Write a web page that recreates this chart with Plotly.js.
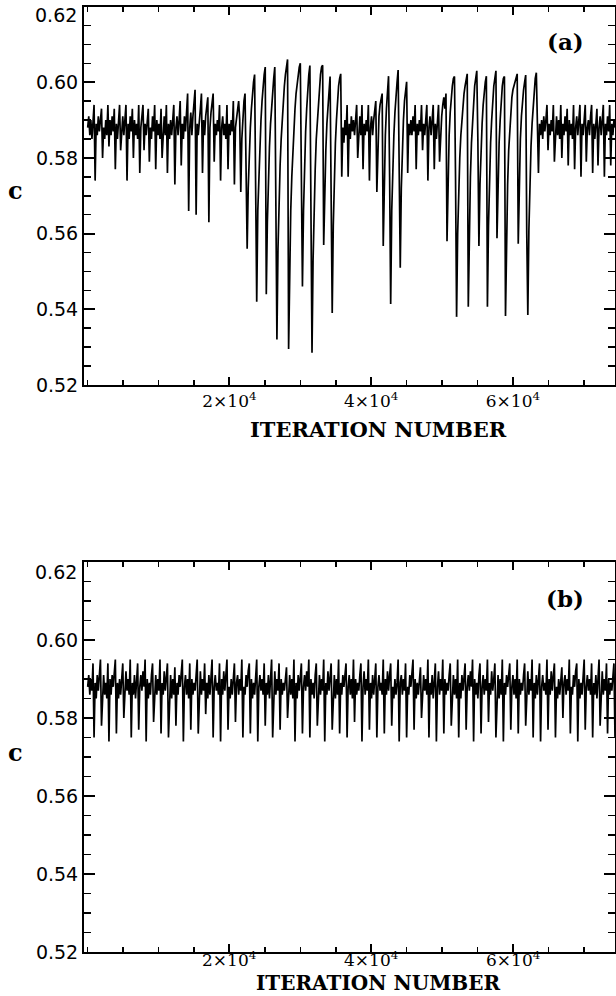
<!DOCTYPE html>
<html><head><meta charset="utf-8">
<script src="https://cdn.plot.ly/plotly-3.0.1.min.js"></script>
<style>html,body{margin:0;padding:0;background:#fff;}#chart{width:616px;height:996px;}</style>
</head><body><div id="chart"></div>
<script>
// iterations between successive samples of the series
const ITER_STEP = 150;

// Panel (a): c versus iteration number
const panelA_calm1 = [.588,.591,.586,.590,.585,.589,.594,.574,
 .589,.586,.591,.587,.590,.593,.580,
 .588,.585,.590,.586,.594,.583,
 .590,.586,.591,.587,.593,.577,
 .589,.585,.590,.594,.582,
 .588,.591,.586,.590,.594,.574,
 .589,.585,.591,.587,.593,.580,
 .590,.586,.589,.585,.594,.576,
 .588,.591,.594,.582,
 .589,.586,.590,.593,.579,
 .588,.585,.591,.587,.594,.577,
 .590,.586,.589,.585,.593,.580,
 .588,.591,.586,.594,.576,
 .589,.585,.590,.586,.591,.594,.573,
 .588,.591,.586,.590,.595];
const panelA_moderate = [.578,
 .589,.585,.591,.587,.592,.597,.566,
 .588,.592,.586,.591,.594,.598,.565,
 .589,.586,.591,.593,.597,.576,
 .590,.586,.591,.594,.596,.563,
 .588,.592,.594,.597,.579,
 .589,.586,.590,.587,.594,.574,
 .588,.591,.586,.589,.585,.594,.577,
 .589,.586,.590,.587,.595,.573,
 .588,.591,.593];
const panelA_burst1 = [.595,.590,.571,.585,.592,.595,.597,.580,.556,.572,
 .582,.588,.593,.597,.600,.602,.570,.542,.566,.576,
 .584,.590,.595,.599,.602,.604,.544,.563,.575,.583,
 .589,.594,.598,.601,.604,.560,.532,.556,.569,.578,
 .585,.591,.596,.599,.602,.604,.606,.5295,.553,.566,
 .575,.582,.588,.593,.597,.600,.602,.604,.605,.575,
 .546,.566,.578,.587,.593,.598,.602,.6044,.560,.5285,
 .553,.567,.577,.585,.590,.595,.599,.602,.604,.6045,
 .557,.572,.582,.589,.594,.598,.6015,.570,.539,.562,
 .575,.584,.590,.595,.599,.601,.6022,.575,.588,.584];
const panelA_calm2 = [.590,.586,.594,.575,.589,.585,.591,.587,.590,.586,
 .591,.594,.580,.588,.591,.586,.594,.577,.589,.586,
 .590,.587,.594,.574,.588,.591,.586,.590,.593,.595,.571];
const panelA_burst2 = [.584,.591,.594,.596,.597,.5567,.575,.586,.593,.598,
 .6016,.575,.5414,.566,.578,.586,.592,.597,.600,.6032,
 .575,.551,.572,.583,.590,.595,.598,.6001,.576,.589];
const panelA_calm3 = [.586,.590,.586,.591,.587,.594,.577,.589,.586,.590,
 .587,.594,.582,.589,.586,.591,.594,.574,.588,.591,
 .586,.590,.594,.577,.589,.585,.591,.594,.579,.588,
 .591,.594,.596];
const panelA_burst3 = [.593,.597,.558,.575,.586,.592,.596,.599,.601,.6015,
 .575,.538,.560,.572,.580,.586,.590,.594,.597,.599,
 .601,.6022,.5407,.562,.575,.584,.590,.595,.599,.601,
 .603,.585,.5567,.573,.583,.589,.594,.598,.600,.6016,
 .5407,.562,.575,.584,.590,.595,.599,.601,.603,.5588,
 .574,.584,.590,.595,.599,.601,.6015,.5382,.560,.573,
 .582,.588,.593,.596,.598,.599,.600,.601,.6022,.5573,
 .574,.585,.591,.595,.598,.600,.6019,.560,.5385,.561,
 .574,.583,.589,.594,.598,.601,.6025,.585,.576,.589];
const panelA_calm4 = [.586,.590,.585,.591,.587,.590,.594,.582,.589,.586,
 .590,.587,.594,.579,.588,.591,.586,.590,.585,.594,
 .580,.589,.586,.591,.587,.593,.578,.590,.586,.589,
 .585,.594,.577,.588,.591,.586,.590,.594,.575,.589,
 .586,.591,.594,.579,.588,.590,.586,.591,.594,.576,
 .589,.585,.590,.593,.578,.588,.591,.586,.590,.594,
 .575,.589,.586,.591,.587,.594,.578,.589,.586,.590,.588];

// Panel (b): c versus iteration number
const panelB = [
 .588,.591,.586,.590,.587,.594,.575, .589,.585,.591,.587,.590,.595,.578,
 .588,.591,.586,.589,.585,.594,.574, .590,.586,.591,.588,.592,.595,.576,
 .589,.585,.590,.586,.591,.594,.580, .588,.592,.587,.590,.586,.595,.575,
 .589,.586,.591,.585,.590,.594,.577, .588,.591,.587,.592,.588,.595,.574,
 .590,.585,.589,.586,.591,.594,.579, .588,.591,.586,.590,.587,.595,.576,
 .589,.586,.592,.587,.590,.594,.575, .587,.591,.585,.590,.586,.593,.578,
 .589,.586,.591,.588,.592,.595,.574, .588,.591,.586,.590,.585,.594,.577,
 .590,.586,.589,.587,.591,.595,.576, .588,.592,.586,.590,.587,.594,.581,
 .589,.585,.591,.586,.590,.595,.575, .588,.591,.587,.589,.586,.594,.574,
 .590,.586,.592,.587,.591,.595,.577, .588,.585,.590,.586,.589,.594,.579,
 .589,.591,.586,.590,.587,.595,.575, .588,.586,.591,.588,.592,.594,.576,
 .590,.585,.589,.586,.591,.595,.574, .588,.591,.587,.590,.586,.594,.578,
 .589,.586,.591,.585,.590,.595,.575, .588,.592,.586,.590,.587,.594,.577,
 .590,.586,.589,.587,.591,.593,.580, .588,.591,.586,.590,.585,.595,.574,
 .589,.585,.591,.587,.590,.594,.576, .588,.591,.587,.592,.588,.595,.575,
 .590,.586,.589,.585,.591,.594,.578, .588,.591,.586,.590,.587,.595,.574,
 .589,.586,.592,.587,.590,.594,.577, .587,.591,.585,.590,.586,.595,.576,
 .589,.586,.591,.588,.592,.594,.575, .588,.591,.586,.590,.585,.595,.579,
 .590,.586,.589,.587,.591,.594,.574, .588,.592,.586,.590,.587,.595,.577,
 .589,.585,.591,.586,.590,.594,.575, .588,.591,.587,.589,.586,.595,.576,
 .590,.586,.592,.587,.591,.594,.578, .588,.585,.590,.586,.589,.595,.574,
 .589,.591,.586,.590,.587,.594,.575, .588,.586,.591,.588,.592,.595,.577,
 .590,.585,.589,.586,.591,.593,.580, .588,.591,.587,.590,.586,.595,.575,
 .589,.586,.591,.585,.590,.594,.574, .588,.592,.586,.590,.587,.595,.576,
 .590,.586,.589,.587,.591,.594,.578, .588,.591,.586,.590,.585,.595,.575,
 .589,.585,.591,.587,.590,.594,.577, .588,.591,.587,.592,.588,.595,.574,
 .590,.586,.589,.585,.591,.594,.576, .588,.591,.586,.590,.587,.595,.579,
 .589,.586,.592,.587,.590,.594,.575, .587,.591,.585,.590,.586,.595,.574,
 .589,.586,.591,.588,.592,.594,.577, .588,.591,.586,.590,.585,.595,.576,
 .590,.586,.589,.587,.591,.594,.578, .588,.592,.586,.590,.587,.595,.575,
 .589,.585,.591,.586,.590,.594,.574, .588,.591,.587,.589,.586,.595,.577,
 .590,.586,.592,.587,.591,.594,.575, .588,.585,.590,.586,.589,.593,.580,
 .589,.591,.586,.590,.587,.595,.576, .588,.586,.591,.588,.592,.594,.574,
 .590,.585,.589,.586,.591,.595,.577, .588,.591,.587,.590,.586,.594,.575,
 .589,.586,.591,.585,.590,.595,.578, .588,.592,.586,.590,.587,.594,.576,
 .590,.586,.589,.587,.591,.594,.575];

const xTickVals = [20000, 40000, 60000];
const xTickText = ['2×10<sup>4</sup>', '4×10<sup>4</sup>', '6×10<sup>4</sup>'];
const yTickVals = [0.52, 0.54, 0.56, 0.58, 0.60, 0.62];
const yTickText = ['0.52', '0.54', '0.56', '0.58', '0.60', '0.62'];
const panelLabels = ['(a)', '(b)'];
const xTitle = 'ITERATION NUMBER';
const yTitle = 'c';

const panelA = [].concat(panelA_calm1, panelA_moderate, panelA_burst1, panelA_calm2,
  panelA_burst2, panelA_calm3, panelA_burst3, panelA_calm4);
const iterA = panelA.map((_, i) => i * ITER_STEP);
const iterB = panelB.map((_, i) => i * ITER_STEP);

const lineStyle = {color: '#000', width: 1.7};
const traces = [
  {x: iterA, y: panelA, type: 'scatter', mode: 'lines', line: lineStyle, xaxis: 'x', yaxis: 'y', hoverinfo: 'skip'},
  {x: iterB, y: panelB, type: 'scatter', mode: 'lines', line: lineStyle, xaxis: 'x2', yaxis: 'y2', hoverinfo: 'skip'}
];

const W = 616, H = 996, L = 84, R = 1;
const px = v => (v - L) / (W - L - R);
const py = v => 1 - v / H;

function xAxis(anchor, labels) {
  return {
    anchor: anchor, domain: [0, 1], range: [-520, 74400],
    showline: true, linecolor: '#000', linewidth: 2, mirror: 'ticks',
    ticks: 'inside', ticklen: 8, tickwidth: 2, tickcolor: '#000',
    tickmode: 'array', tickvals: xTickVals, ticktext: labels,
    tickfont: {family: 'DejaVu Serif', size: 17, color: '#000'},
    minor: {tickmode: 'linear', tick0: 0, dtick: 5000, ticks: 'inside', ticklen: 5, tickwidth: 1.5, tickcolor: '#000'},
    showgrid: false, zeroline: false, automargin: false, fixedrange: true
  };
}
// the top label (0.62) sits a little lower than its tick in the reference, so it is drawn as an annotation
const axisTickText = yTickText.map((t, i) => i === yTickText.length - 1 ? ' ' : t);
function yAxis(anchor, dom) {
  return {
    anchor: anchor, domain: dom, range: [0.52, 0.62],
    showline: true, linecolor: '#000', linewidth: 2, mirror: 'ticks',
    ticks: 'inside', ticklen: 11, tickwidth: 2, tickcolor: '#000',
    tickmode: 'array', tickvals: yTickVals, ticktext: axisTickText,
    tickfont: {family: 'DejaVu Sans', size: 19, color: '#000'},
    minor: {tickmode: 'linear', tick0: 0.52, dtick: 0.005, ticks: 'inside', ticklen: 7, tickwidth: 1.5, tickcolor: '#000'},
    showgrid: false, zeroline: false, automargin: false, fixedrange: true
  };
}

const ann = (text, x, y, size, bold, family, xanchor, yanchor) => ({
  text: bold ? '<b>' + text + '</b>' : text, xref: 'paper', yref: 'paper',
  x: px(x), y: py(y), xanchor: xanchor || 'center', yanchor: yanchor || 'middle', showarrow: false,
  borderpad: 0, font: {size: size, family: family || 'DejaVu Serif', color: '#000'}
});

// bottom panel: tick labels sit close to the title, so they are placed at the tick values as annotations
const bottomTickLabels = xTickVals.map((v, i) => ({
  text: xTickText[i], xref: 'x2', yref: 'paper', x: v, y: py(959),
  xanchor: 'center', yanchor: 'middle', showarrow: false, borderpad: 0,
  font: {size: 17, family: 'DejaVu Serif', color: '#000'}
}));

const layout = {
  width: W, height: H,
  margin: {l: L, r: R, t: 0, b: 0},
  paper_bgcolor: '#fff', plot_bgcolor: '#fff', showlegend: false,
  xaxis: xAxis('y', xTickText), yaxis: yAxis('x', [py(385), py(6.5)]),
  xaxis2: xAxis('y2', xTickVals.map(() => ' ')), yaxis2: yAxis('x2', [py(952), py(562)]),
  annotations: [
    ann(yTickText[5], 78, 15, 19, false, 'DejaVu Sans', 'right'),
    ann(yTickText[5], 78, 572, 19, false, 'DejaVu Sans', 'right'),
    ann(yTitle, 15, 190, 24, true), ann(yTitle, 15, 752, 24, true),
    ann(panelLabels[0], 565, 42, 23, true), ann(panelLabels[1], 565, 598, 23, true),
    ann(xTitle, 378, 429, 21, true),
    ann(xTitle, 378, 996, 20, true, null, 'center', 'bottom')
  ].concat(bottomTickLabels)
};

Plotly.newPlot('chart', traces, layout, {staticPlot: true, displayModeBar: false});
</script>
</body></html>
